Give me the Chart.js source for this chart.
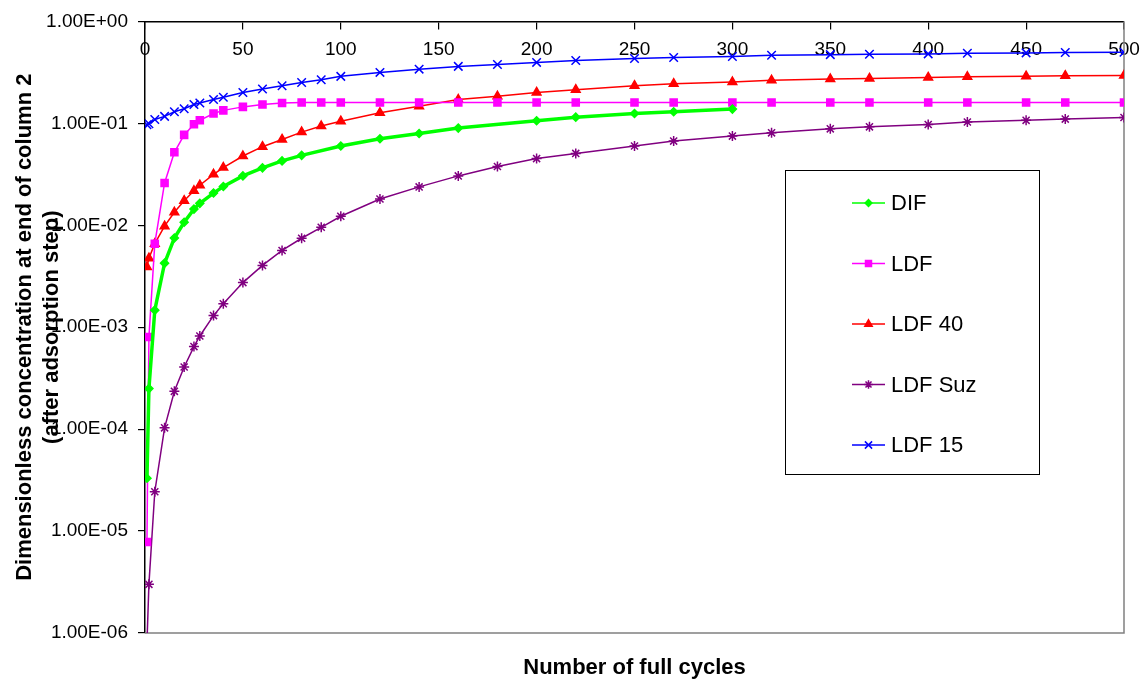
<!DOCTYPE html>
<html>
<head>
<meta charset="utf-8">
<title>Dimensionless concentration</title>
<script src="https://cdn.jsdelivr.net/npm/chart.js@4/dist/chart.umd.min.js"></script>
<style>
  body { margin: 0; background: #fff; }
  #wrap { width: 1143px; height: 680px; }
</style>
</head>
<body>
<div id="wrap"><canvas id="myChart" width="1143" height="680"></canvas></div>
<script>
// values
const cyclesDIF = [1, 2, 5, 10, 15, 20, 25, 28, 35, 40, 50, 60, 70, 80, 100, 120, 140, 160, 200, 220, 250, 270, 300];
const cyclesLDF = [1, 2, 5, 10, 15, 20, 25, 28, 35, 40, 50, 60, 70, 80, 90, 100, 120, 140, 160, 180, 200, 220, 250, 270, 300, 320, 350, 370, 400, 420, 450, 470, 500];

const dif = [3.3e-5, 2.5e-4, 1.47e-3, 4.25e-3, 7.5e-3, 0.0107, 0.0144, 0.0164, 0.0207, 0.024, 0.0305, 0.0366, 0.0428, 0.0485, 0.06, 0.0706, 0.0795, 0.0898, 0.106, 0.115, 0.125, 0.130, 0.138];
const ldf = [7.8e-6, 8e-4, 6.6e-3, 0.026, 0.052, 0.077, 0.098, 0.107, 0.125, 0.134, 0.145, 0.153, 0.158, 0.160, 0.160, 0.160, 0.160, 0.160, 0.160, 0.160, 0.160, 0.160, 0.160, 0.160, 0.160, 0.160, 0.160, 0.160, 0.160, 0.160, 0.160, 0.160, 0.160];
const ldf40 = [3.9e-3, 4.75e-3, 6.6e-3, 9.8e-3, 0.0134, 0.0174, 0.0218, 0.0247, 0.0316, 0.0368, 0.0478, 0.059, 0.0695, 0.082, 0.094, 0.105, 0.127, 0.147, 0.171, 0.184, 0.201, 0.214, 0.234, 0.245, 0.254, 0.264, 0.272, 0.276, 0.282, 0.286, 0.290, 0.293, 0.295];
const ldfSuz = [8e-7, 3e-6, 2.43e-5, 1.03e-4, 2.35e-4, 4.07e-4, 6.45e-4, 8.2e-4, 1.3e-3, 1.7e-3, 2.74e-3, 4.04e-3, 5.66e-3, 7.46e-3, 9.55e-3, 0.01225, 0.0181, 0.0238, 0.0305, 0.0377, 0.0451, 0.0507, 0.0599, 0.067, 0.075, 0.0807, 0.0883, 0.0924, 0.0973, 0.103, 0.107, 0.110, 0.114];
const ldf15 = [0.097, 0.099, 0.109, 0.117, 0.130, 0.139, 0.153, 0.158, 0.171, 0.180, 0.201, 0.217, 0.234, 0.252, 0.268, 0.289, 0.316, 0.340, 0.362, 0.378, 0.396, 0.414, 0.432, 0.443, 0.452, 0.466, 0.472, 0.476, 0.480, 0.487, 0.491, 0.495, 0.498];

const xTicks = [0, 50, 100, 150, 200, 250, 300, 350, 400, 450, 500];
const yTicks = [1e-6, 1e-5, 1e-4, 1e-3, 1e-2, 1e-1, 1];
const yTickLabels = ['1.00E-06', '1.00E-05', '1.00E-04', '1.00E-03', '1.00E-02', '1.00E-01', '1.00E+00'];

const FONT = '"Liberation Sans", Arial, sans-serif';

function pts(xs, ys) {
	return xs.map((x, i) => ({x: x, y: ys[i]}));
}

function series(label, xs, ys, color, style, radius, width) {
	return {
		label: label,
		data: pts(xs, ys),
		borderColor: color,
		backgroundColor: color,
		pointBackgroundColor: color,
		pointBorderColor: color,
		pointStyle: style,
		pointRadius: radius,
		pointBorderWidth: 1.5,
		borderWidth: width,
		tension: 0,
		fill: false
	};
}

// legend drawn inside the plot, like the excel box
const boxLegend = {
	id: 'boxLegend',
	afterDraw(chart) {
		const c = chart.ctx;
		c.save();
		c.fillStyle = '#fff';
		c.strokeStyle = '#000';
		c.lineWidth = 1;
		c.fillRect(785.5, 170.5, 254, 304);
		c.strokeRect(785.5, 170.5, 254, 304);
		chart.data.datasets.forEach(function(ds, i) {
			const y = 203 + i * 60.5;
			c.strokeStyle = ds.borderColor;
			c.lineWidth = 1.5;
			c.beginPath();
			c.moveTo(852, y);
			c.lineTo(885, y);
			c.stroke();
			c.fillStyle = ds.pointBackgroundColor;
			Chart.helpers.drawPoint(c, {pointStyle: ds.pointStyle, radius: ds.pointRadius * 0.85, borderWidth: 1.5, rotation: 0}, 868.5, y);
			c.fillStyle = '#000';
			c.font = '22px ' + FONT;
			c.textBaseline = 'middle';
			c.textAlign = 'left';
			c.fillText(ds.label, 891, y + 1);
		});
		c.restore();
	}
};

// gray plot-area frame on right and bottom
const frame = {
	id: 'frame',
	beforeDatasetsDraw(chart) {
		const a = chart.chartArea;
		const c = chart.ctx;
		c.save();
		c.strokeStyle = '#808080';
		c.lineWidth = 1.5;
		c.beginPath();
		c.moveTo(a.left, a.bottom);
		c.lineTo(a.right, a.bottom);
		c.lineTo(a.right, a.top);
		c.stroke();
		c.restore();
	}
};

const ctx = document.getElementById('myChart').getContext('2d');
const myChart = new Chart(ctx, {
	type: 'line',
	data: {
		datasets: [
			series('DIF', cyclesDIF, dif, '#00ff00', 'rectRot', 4, 3.5),
			series('LDF', cyclesLDF, ldf, '#ff00ff', 'rect', 5, 1.5),
			series('LDF 40', cyclesLDF, ldf40, '#ff0000', 'triangle', 5, 1.5),
			series('LDF Suz', cyclesLDF, ldfSuz, '#800080', 'star', 5, 1.5),
			series('LDF 15', cyclesLDF, ldf15, '#0000ff', 'crossRot', 6, 1.5)
		]
	},
	options: {
		responsive: false,
		animation: false,
		events: [],
		layout: {
			padding: {left: 0, top: 18, right: 19, bottom: 0}
		},
		plugins: {
			legend: { display: false },
			tooltip: { enabled: false },
			title: {
				display: true,
				position: 'bottom',
				fullSize: false,
				text: 'Number of full cycles',
				color: '#000',
				font: {family: FONT, size: 22, weight: 'bold', lineHeight: 1},
				padding: {top: 24, bottom: 1}
			}
		},
		scales: {
			x: {
				type: 'linear',
				// excel crosses the category axis at 1.00E+00, i.e. at the top
				position: {y: 1},
				min: 0,
				max: 500,
				afterBuildTicks: function(scale) {
					scale.ticks = xTicks.map(v => ({value: v}));
				},
				afterFit: function(scale) {
					// the "500" label may hang over the edge, as in excel
					scale.paddingLeft = 0;
					scale.paddingRight = 0;
				},
				ticks: {
					color: '#000',
					font: {family: FONT, size: 19},
					padding: 10,
					maxRotation: 0,
					autoSkip: false
				},
				grid: {
					drawOnChartArea: false,
					drawTicks: true,
					tickLength: 7,
					color: '#000',
					lineWidth: 1.2
				},
				border: { display: true, color: '#000', width: 1.5 }
			},
			y: {
				type: 'logarithmic',
				position: 'left',
				min: 1e-6,
				max: 1,
				afterBuildTicks: function(scale) {
					scale.ticks = yTicks.map(v => ({value: v}));
				},
				afterFit: function(scale) {
					scale.width = 145;
				},
				ticks: {
					color: '#000',
					font: {family: FONT, size: 19},
					padding: 10,
					autoSkip: false,
					callback: function(value, index) {
						return yTickLabels[index];
					}
				},
				grid: {
					drawOnChartArea: false,
					drawTicks: true,
					tickLength: 7,
					color: '#000',
					lineWidth: 1.2
				},
				border: { display: true, color: '#000', width: 1.5 },
				title: {
					display: true,
					text: ['Dimensionless concentration at end of column 2', '(after adsorption step)'],
					color: '#000',
					font: {family: FONT, size: 22, weight: 'bold', lineHeight: 1.2},
					padding: {top: 12, bottom: 0}
				}
			}
		}
	},
	plugins: [frame, boxLegend]
});
</script>
</body>
</html>
